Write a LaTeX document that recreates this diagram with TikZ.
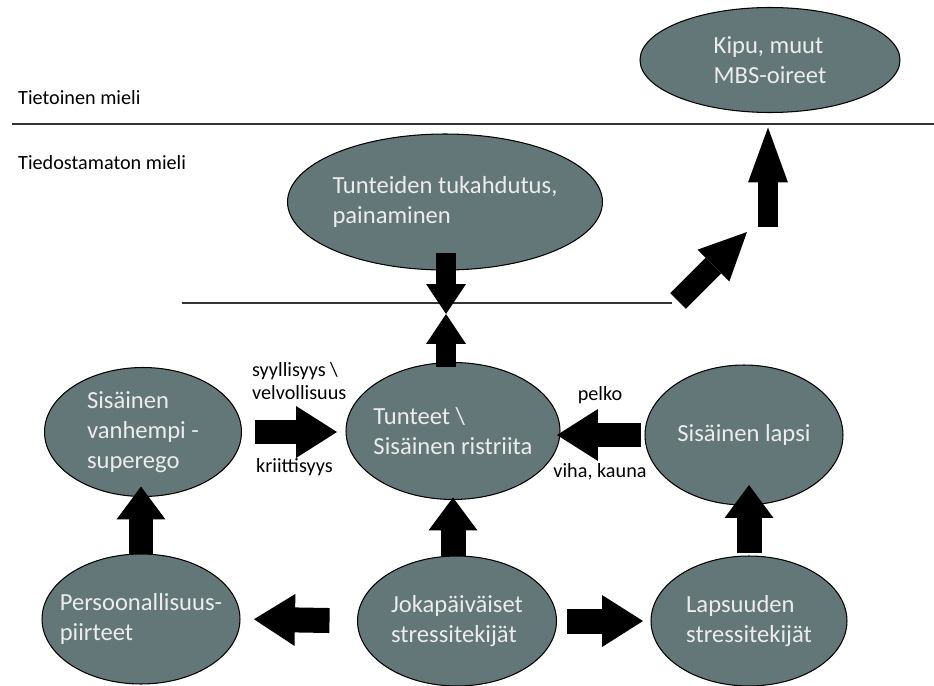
\documentclass[tikz,border=0pt]{standalone}
\usepackage{fontspec}
\setmainfont{Carlito}
\usetikzlibrary{shapes.geometric,arrows.meta}
\definecolor{bubfill}{RGB}{99,119,120}
\definecolor{bubtext}{RGB}{236,236,236}
\tikzset{
  bub/.style={ellipse, draw, line width=0.6pt, fill=bubfill, text=bubtext,
    align=left, inner sep=-0.3cm, outer sep=0pt,
    font=\fontsize{14}{17}\selectfont},
  lbl/.style={align=left, font=\fontsize{11.5}{13.5}\selectfont},
  fat/.style={line width=0.5cm, -{Triangle[width=1.04cm,length=0.82cm,line width=0pt]}},
  fatv/.style={line width=0.5cm, -{Triangle[width=0.98cm,length=0.66cm,line width=0pt]}},
  slim/.style={line width=0.4cm, -{Triangle[width=0.8cm,length=0.6cm,line width=0pt]}},
  sep/.style={line width=1.1pt, black!80}
}
\begin{document}
\begin{tikzpicture}[x=0.02cm,y=-0.02cm]
  \useasboundingbox (0,0) rectangle (934,686);
  % levels of the mind
  \node[lbl, anchor=west] (tietoinen) at (12,98) {Tietoinen mieli};
  \node[lbl, anchor=west] (tiedostamaton) at (12,163) {Tiedostamaton mieli};
  \coordinate (topL) at (12,124);
  \coordinate (topR) at (934,124);
  \draw[sep] (topL) -- (topR);
  \coordinate (lineL) at (182,303);
  \coordinate (lineR) at (672,303);
  \draw[sep, line width=0.9pt] (lineL) -- (lineR);

  % bubbles
  \node[bub, minimum width=5.2cm, minimum height=2.1cm] (kipu) at (770,60) {Kipu, muut\\MBS-oireet};
  \node[bub, minimum width=6.3cm, minimum height=2.72cm] (tuk) at (445,202) {Tunteiden tukahdutus,\\painaminen};
  \node[bub, minimum width=4.28cm, minimum height=2.74cm] (tun) at (453,431) {Tunteet \textbackslash\\Sisäinen ristriita};
  \node[bub, minimum width=3.94cm, minimum height=2.58cm] (vanh) at (143,432) {Sisäinen\\vanhempi -\\superego};
  \node[bub, minimum width=3.96cm, minimum height=2.8cm] (lapsi) at (744,435) {Sisäinen lapsi};
  \node[bub, minimum width=3.96cm, minimum height=2.6cm] (pers) at (141,619) {Persoonallisuus-\\piirteet};
  \node[bub, minimum width=3.98cm, minimum height=2.6cm] (jok) at (457,621) {Jokapäiväiset\\stressitekijät};
  \node[bub, minimum width=3.92cm, minimum height=2.6cm] (laps) at (749,621) {Lapsuuden\\stressitekijät};

  % arrow labels
  \node[lbl, anchor=west] (syy) at (246,381) {syyllisyys \textbackslash\\velvollisuus};
  \node[lbl, anchor=west] (kriit) at (250,467) {kriittisyys};
  \node[lbl] (pelko) at (600,395) {pelko};
  \node[lbl] (viha) at (600,472) {viha, kauna};

  % arrows
  \coordinate (meet) at (446,314);
  \draw[slim, shorten <=-0.34cm] (tuk.south -| meet) -- (meet);
  \draw[slim, shorten <=-0.08cm] (tun.north -| meet) -- (meet);
  \draw[fat, shorten <=0.28cm, shorten >=0.18cm] (vanh.east) -- (vanh.east -| tun.west);
  \draw[fat, shorten <=0.08cm, shorten >=-0.06cm] (lapsi.west) -- (lapsi.west -| tun.east);
  \draw[fatv, shorten >=-0.2cm] (pers.north) -- (pers.north |- vanh.south);
  \draw[fatv, shorten >=-0.04cm] (jok.north -| tun.south) -- (tun.south);
  \draw[fatv, shorten <=0.06cm, shorten >=-0.4cm] (laps.north) -- (laps.north |- lapsi.south);
  \draw[fat, shorten <=0.56cm, shorten >=0.28cm] (jok.west) -- (pers.east);
  \draw[fat, shorten <=0.22cm, shorten >=0.16cm] (jok.east) -- (laps.west);
  \coordinate (diagtail) at (678,301);
  \coordinate (diagtip) at (747,232);
  \draw[line width=0.44cm, -{Triangle[width=0.9cm,length=0.95cm,line width=0pt]}] (diagtail) -- (diagtip);
  \coordinate (kiputail) at (768,227);
  \draw[line width=0.4cm, -{Triangle[width=0.8cm,length=1.1cm,line width=0pt]}, shorten >=0.3cm] (kiputail) -- (kiputail |- kipu.south);
\end{tikzpicture}
\end{document}
